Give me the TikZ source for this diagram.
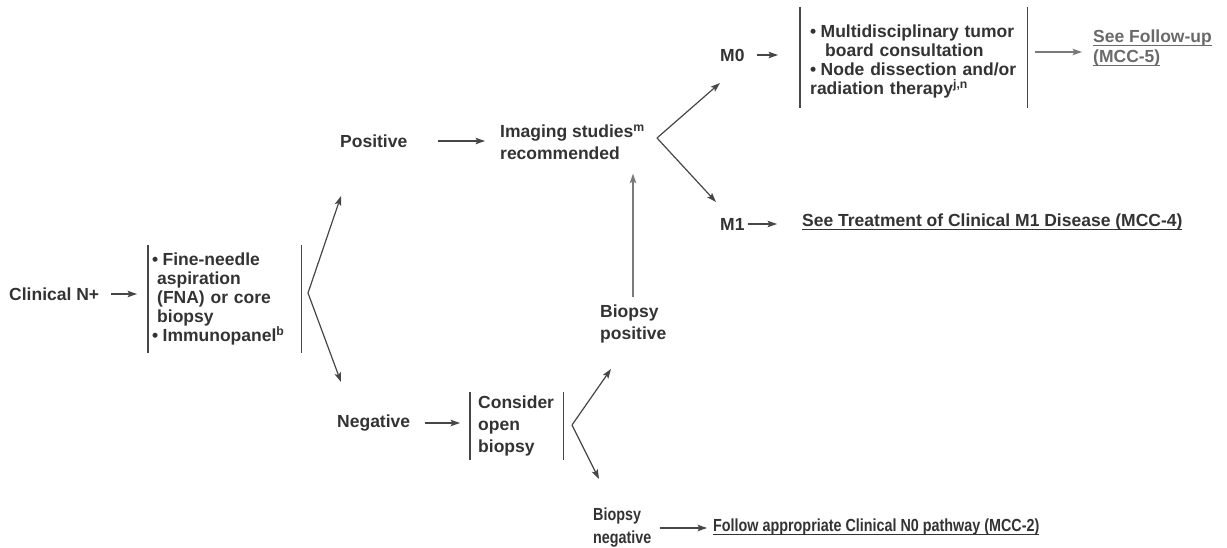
\documentclass[tikz,border=0pt]{standalone}
\usepackage{amsmath}
\usepackage{xcolor}
\usepackage{fontspec}
\setmainfont{Liberation Sans}
\newfontfamily\narrowfont{Liberation Sans}[FakeStretch=0.82]
\usetikzlibrary{arrows.meta,calc}

\definecolor{txtgray}{HTML}{333333}
\definecolor{linegray}{HTML}{464646}
\definecolor{lightline}{HTML}{7A7A7A}
\definecolor{linkgray}{HTML}{6A6A6A}

\newcommand{\bul}{\makebox[10.5pt][l]{\textbullet}}
\newcommand{\lnk}[1]{\underline{\smash[b]{#1}}}

\begin{document}
\begin{tikzpicture}[x=1pt,y=-1pt,
    font=\fontsize{17.5}{19}\selectfont\bfseries, text=txtgray,
    lbl/.style={inner sep=0pt, anchor=west},
    bar/.style={draw=linegray, line width=1.4pt},
    barbox/.style={anchor=west, align=left, inner ysep=0pt,
      append after command={
        (\tikzlastnode.north west) edge[bar] (\tikzlastnode.south west)
        (\tikzlastnode.north east) edge[bar] (\tikzlastnode.south east)}},
    arr/.style={draw=linegray, line width=1.2pt,
      -{Stealth[length=9.5pt,width=6.5pt,inset=2pt]}},
    lightarr/.style={arr, draw=lightline}]
  \useasboundingbox (0,0) rectangle (1227,548);

  % start
  \node[lbl] (cn) at (9,294) {Clinical N+};
  \node[barbox, inner xsep=4pt, text width=145pt, minimum height=107pt]
    (fna) at (148,299)
    {\bul Fine-needle\\
     \hspace*{5pt}aspiration\\
     \hspace*{5pt}(FNA) or core\\
     \hspace*{5pt}biopsy\\
     \bul Immunopanel\textsuperscript{b}};
  \draw[arr, shorten <=12pt, shorten >=11pt] (cn.east) -- (cn.east -| fna.west);

  % positive / negative
  \coordinate (f1) at (308,293);
  \coordinate (f1up) at (341,196);
  \coordinate (f1dn) at (341,382);
  \draw[arr] (f1) -- (f1up);
  \draw[arr] (f1) -- (f1dn);

  \node[lbl] (pos) at (340,141) {Positive};
  \node[lbl, align=left, font=\fontsize{17.5}{22}\selectfont\bfseries]
    (img) at (500,142) {Imaging studies\textsuperscript{m}\\recommended};
  \draw[arr, shorten <=30pt, shorten >=15pt] (pos.east) -- (pos.east -| img.west);

  \coordinate (f2) at (657,138);
  \coordinate (f2up) at (720,83);
  \coordinate (f2dn) at (716,202);
  \draw[arr] (f2) -- (f2up);
  \draw[arr] (f2) -- (f2dn);

  % M0
  \node[lbl] (m0) at (720,55) {M0};
  \node[barbox, inner xsep=10pt, text width=207pt, minimum height=101pt]
    (m0box) at (800,57.5)
    {\rule{0pt}{20.5pt}\bul Multidisciplinary tumor\\
     \hspace*{15pt}board consultation\\
     \bul Node dissection and/or\\
     radiation therapy\textsuperscript{j,n}};
  \draw[arr, shorten <=12pt, shorten >=22pt] (m0.east) -- (m0.east -| m0box.west);
  \node[lbl, align=left, text=linkgray, font=\fontsize{17.5}{20}\selectfont\bfseries]
    (fu) at (1093,48) {\lnk{See Follow-up}\\\lnk{(MCC-5)}};
  \draw[lightarr, shorten <=8pt, shorten >=11pt] (m0box.east |- fu.west) ++(0,4) coordinate (fuarr)
    (fuarr) -- (fuarr -| fu.west);

  % M1
  \node[lbl] (m1) at (720,224) {M1};
  \node[lbl] (m1txt) at (802,222) {\lnk{See Treatment of Clinical M1 Disease (MCC-4)}};
  \draw[arr, shorten <=3pt, shorten >=25pt] (m1.east) -- (m1.east -| m1txt.west);

  % negative branch
  \node[lbl] (neg) at (337,423) {Negative};
  \node[barbox, inner xsep=8pt, text width=77pt, minimum height=68pt,
    font=\fontsize{17.5}{22}\selectfont\bfseries]
    (cob) at (470,426) {Consider\\open\\biopsy};
  \draw[arr, shorten <=15pt, shorten >=10pt] (neg.east) -- (neg.east -| cob.west);

  \coordinate (f3) at (572,425);
  \coordinate (f3up) at (611,369);
  \coordinate (f3dn) at (599,479);
  \draw[arr] (f3) -- (f3up);
  \draw[arr] (f3) -- (f3dn);

  \node[lbl, align=left, font=\fontsize{17.5}{22}\selectfont\bfseries]
    (bpos) at (600,324) {Biopsy\\positive};
  \draw[lightarr, shorten <=8pt, shorten >=14pt] (633,0 |- bpos.north) coordinate (bp)
    (bp) -- (bp |- img.south);

  \node[lbl, align=left, font=\narrowfont\fontsize{17.5}{23}\selectfont\bfseries]
    (bneg) at (593,528) {Biopsy\\negative};
  \node[lbl, font=\narrowfont\fontsize{17.5}{19}\selectfont\bfseries]
    (n0txt) at (713,527) {\lnk{Follow appropriate Clinical N0 pathway (MCC-2)}};
  \draw[arr, shorten <=8pt, shorten >=6pt] (bneg.east) -- (bneg.east -| n0txt.west);
\end{tikzpicture}
\end{document}
